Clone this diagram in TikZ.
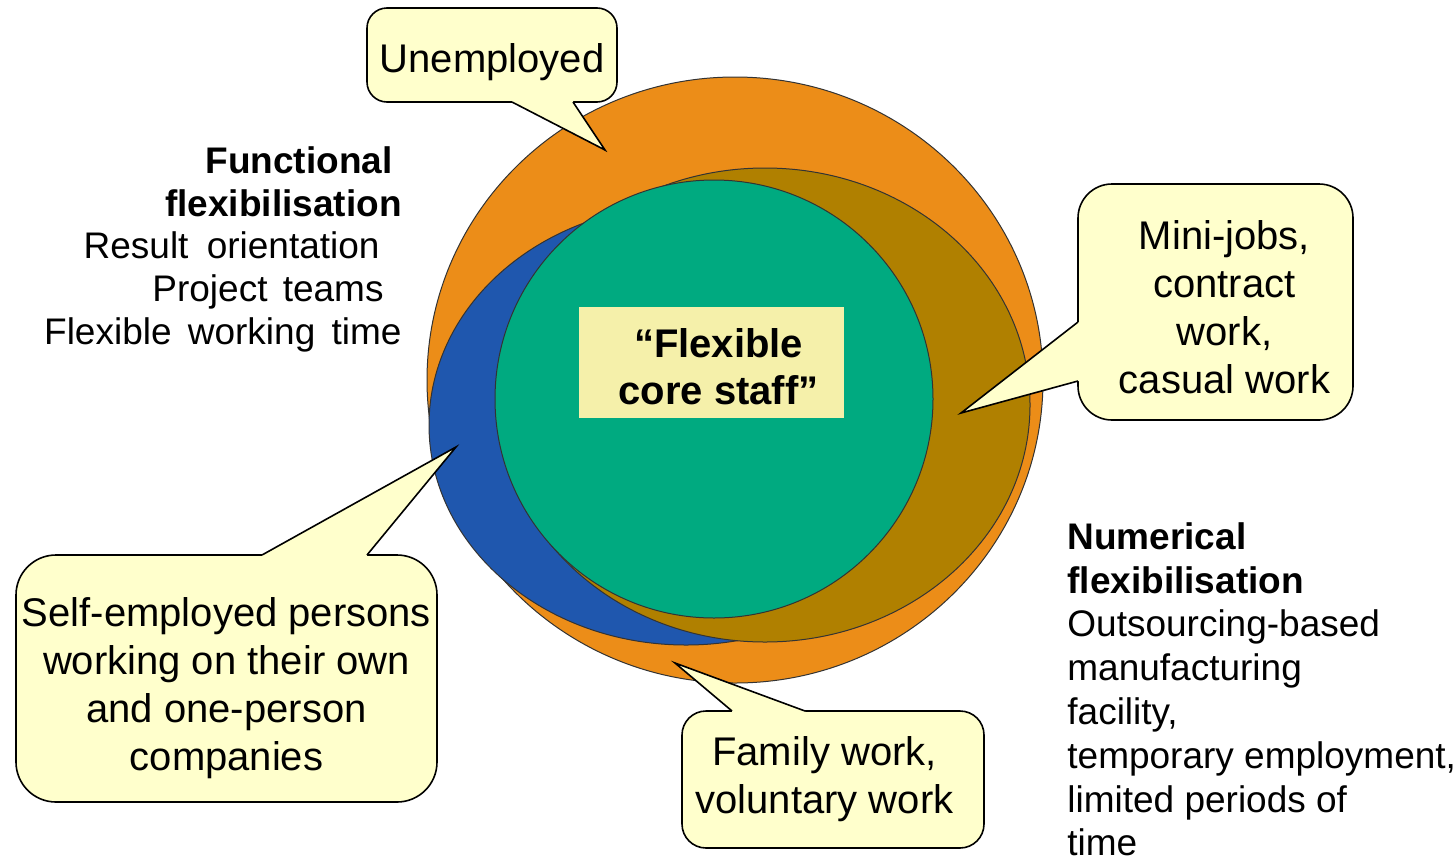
\documentclass[tikz,border=0pt]{standalone}
\usepackage{fontspec}
\setmainfont{Liberation Sans}
\usepackage{tikz}
\usetikzlibrary{positioning,calc}

\definecolor{outerorange}{RGB}{236,141,24}
\definecolor{bluearea}{RGB}{31,87,174}
\definecolor{brownarea}{RGB}{176,128,0}
\definecolor{corearea}{RGB}{0,170,128}
\definecolor{bubblefill}{RGB}{255,255,204}
\definecolor{labelfill}{RGB}{245,240,170}
% padding boxes used to nudge centred lines
\newcommand{\padbox}[1]{\rule{#1}{0pt}}

\begin{document}
\begin{tikzpicture}
[x=0.5pt,y=-0.5pt,
ring/.style={draw=black!80,line width=0.5pt},
bubble/.style={draw,line width=0.8pt,fill=bubblefill,align=center,inner sep=0pt,
  outer sep=0pt,font=\fontsize{20}{24}\selectfont},
bubble edge/.style={line width=0.8pt,line join=miter},
corebox/.style={fill=labelfill,align=center,inner sep=0pt,minimum width=132.5pt,
  minimum height=55.5pt,font=\bfseries\fontsize{20}{23.5}\selectfont},
side text/.style={inner sep=0pt,font=\fontsize{18.5}{21.4}\selectfont}]
\useasboundingbox (0,0) rectangle (1455,857);
% The circles
\draw[ring,fill=outerorange] (735,380) ellipse [x radius=308,y radius=303];
\draw[ring,fill=bluearea] (686,425) ellipse [x radius=257,y radius=220];
\draw[ring,fill=brownarea] (765,405) ellipse [x radius=265,y radius=237];
\draw[ring,fill=corearea] (714,399) circle [radius=219];
\node[corebox,text height=42.6pt] (core) at (711.5,362.5)
  {\padbox{7pt}“Flexible\\ \padbox{7pt}core staff”};
% Side texts
\node[side text,align=right,anchor=north east] (functional) at (402,146)
{\textbf{Functional}\padbox{4.5pt}\\ \textbf{flexibilisation}\\
Result\hspace{4pt} orientation\padbox{11pt}\\ Project\hspace{2.5pt} teams\padbox{9pt}\\
Flexible\hspace{3pt} working\hspace{3pt} time};
\node[side text,align=left,anchor=north west,font=\fontsize{18.5}{21.9}\selectfont]
  (numerical) at (1067,522)
{\textbf{Numerical}\\ \textbf{flexibilisation}\\ Outsourcing-based\\ manufacturing\\
facility,\\ temporary employment,\\ limited periods of\\ time};
% Callouts
\node[bubble,minimum width=125pt,minimum height=47pt,rounded corners=10pt,
  text height=21.6pt] (unemp) at (492,55) {Unemployed};
\node[bubble,minimum width=137.5pt,minimum height=118pt,rounded corners=17pt,
  text height=91.6pt] (mini) at (1215.5,302)
  {\padbox{9pt}Mini-jobs,\\ \padbox{9pt}contract\\ \padbox{9pt}work,\\ \padbox{9pt}casual work};
\node[bubble,minimum width=210.5pt,minimum height=123.5pt,rounded corners=20pt,
  text height=96.6pt] (self) at (226.5,678.5)
  {Self-employed persons\\ working on their own\\ and one-person\\ companies};
\node[bubble,minimum width=151pt,minimum height=68.5pt,rounded corners=12pt]
  (family) at (833,779.5) {Family work,\padbox{8.5pt}\\ voluntary work\padbox{8.5pt}};
\coordinate (unemp b1) at ($(unemp.south west)+(145,0)$);
\coordinate (unemp b2) at ($(unemp.south west)+(206,0)$);
\coordinate (unemp tip) at (605,150);
\coordinate (mini b1) at ($(mini.north west)+(0,138)$);
\coordinate (mini b2) at ($(mini.north west)+(0,197)$);
\coordinate (mini tip) at (961,413);
\coordinate (self b1) at ($(self.north west)+(246,0)$);
\coordinate (self b2) at ($(self.north west)+(351,0)$);
\coordinate (self tip) at (456,447);
\coordinate (family b1) at ($(family.north west)+(50,0)$);
\coordinate (family b2) at ($(family.north west)+(123,0)$);
\coordinate (family tip) at (675,663);
\foreach \name/\dx/\dy in {unemp/0/-3,mini/3/0,self/0/3,family/0/3}{
  \fill[bubblefill] (\name\space b1) -- (\name\space tip) -- (\name\space b2)
    -- ++(\dx,\dy) -- ($(\name\space b1)+(\dx,\dy)$) -- cycle;
  \draw[bubble edge] (\name\space b1) -- (\name\space tip) -- (\name\space b2);
}
\end{tikzpicture}
\end{document}
